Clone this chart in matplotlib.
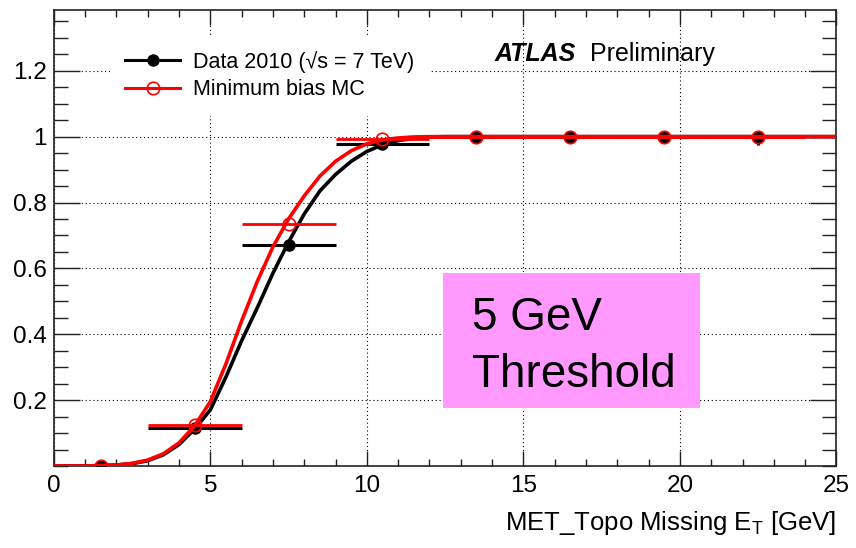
import numpy as np
import matplotlib.pyplot as plt
from matplotlib.lines import Line2D
from matplotlib.patches import Rectangle

plt.rcParams['font.family'] = ['Liberation Sans', 'DejaVu Sans']
plt.rcParams['mathtext.fontset'] = 'custom'
plt.rcParams['mathtext.rm'] = 'Liberation Sans'
plt.rcParams['mathtext.it'] = 'Liberation Sans:italic'

# binned efficiencies
bin_centers = [1.5, 4.5, 7.5, 10.5, 13.5, 16.5, 19.5, 22.5]
bin_halfwidth = [1.5] * 8
data_eff = [0.0, 0.115, 0.672, 0.978, 1.0, 1.0, 1.0, 0.999]
data_err_lo = [0.0, 0.0, 0.0, 0.0, 0.0, 0.0, 0.0, 0.025]
data_err_hi = [0.0, 0.0, 0.0, 0.0, 0.0, 0.0, 0.0, 0.0]
mc_eff = [0.0, 0.125, 0.734, 0.992, 1.0, 1.0, 1.0, 1.0]

# fitted turn-on curves
fit_x = [0, 1, 2, 2.5, 3, 3.5, 4, 4.5, 5, 5.5, 6, 6.5, 7, 7.5, 8, 8.5,
         9, 9.5, 10, 10.5, 11, 11.5, 12, 12.5, 25]
data_fit = [0, 0, 0.003, 0.007, 0.016, 0.034, 0.065, 0.112, 0.17, 0.27,
            0.38, 0.48, 0.585, 0.68, 0.765, 0.835, 0.885, 0.925, 0.955,
            0.975, 0.988, 0.995, 0.999, 1.0, 1.0]
mc_fit = [0, 0, 0.003, 0.008, 0.018, 0.037, 0.07, 0.122, 0.195, 0.31,
          0.44, 0.56, 0.665, 0.75, 0.82, 0.88, 0.925, 0.957, 0.978,
          0.99, 0.996, 0.999, 1.0, 1.0, 1.0]

fig = plt.figure(figsize=(8.56, 5.48), dpi=100)
ax = fig.add_axes([53.7/856, 1-466/548, (836.5-53.7)/856, (466-9.5)/548])

ax.errorbar(bin_centers, data_eff, xerr=bin_halfwidth,
            yerr=[data_err_lo, data_err_hi], fmt='o', color='black',
            ms=8, lw=2.2, capsize=0, zorder=3)
ax.plot(fit_x, data_fit, color='black', lw=2.6, zorder=4)
ax.errorbar(bin_centers, mc_eff, xerr=bin_halfwidth, fmt='o', color='red',
            mfc='none', mec='red', mew=1.2, ms=9, lw=2.0, capsize=0, zorder=5)
ax.plot(fit_x, mc_fit, color='red', lw=2.6, zorder=6)

ax.set_xlim(0, 25)
ax.set_ylim(0, 1.386)
ax.set_xticks([0, 5, 10, 15, 20, 25])
ax.set_xticks(np.arange(0, 26, 1), minor=True)
ax.set_yticks([0.2, 0.4, 0.6, 0.8, 1.0, 1.2])
ax.set_yticklabels(['0.2', '0.4', '0.6', '0.8', '1', '1.2'])
ax.set_yticks(np.arange(0, 1.39, 0.05), minor=True)
ax.grid(True, which='major', color='black', lw=0.8, linestyle=(0, (1, 2.5)))

ax.tick_params(axis='both', which='both', direction='in', top=True,
               right=True, width=1.0, colors='#222222', labelcolor='black',
               labelsize=17.5)
ax.tick_params(axis='x', which='major', length=10.5, pad=6.5)
ax.tick_params(axis='x', which='minor', length=5)
ax.tick_params(axis='y', which='major', length=19, pad=5)
ax.tick_params(axis='y', which='minor', length=10)
for s in ax.spines.values():
    s.set_linewidth(1.2)
    s.set_color('#222222')

handles = [Line2D([], [], color='black', lw=2.2, marker='o', ms=8),
           Line2D([], [], color='red', lw=2.2, marker='o', ms=9, mfc='none',
                  mec='red', mew=1.2)]
leg = ax.legend(handles, ['Data 2010 (\u221as = 7 TeV)', 'Minimum bias MC'],
                loc='upper left', bbox_to_anchor=(110/856, 1-36/548),
                bbox_transform=fig.transFigure, fontsize=15.5, frameon=True,
                fancybox=False, edgecolor='none', framealpha=1,
                handlelength=2.56, handletextpad=0.6, borderpad=0.7,
                borderaxespad=0, labelspacing=0.3)
leg.set_zorder(7)

fig.text(495/856, 1-60.7/548, 'ATLAS', fontsize=18, fontweight='bold',
         fontstyle='italic', ha='left', va='baseline')
fig.text(590/856, 1-60.7/548, 'Preliminary', fontsize=18, ha='left',
         va='baseline')

ax.add_patch(Rectangle((12.43, 0.175), 8.22, 0.412, facecolor='#ff99ff',
                       edgecolor='none', zorder=8))
ax.text(13.35, 0.413, '5 GeV', fontsize=33, ha='left', va='baseline', zorder=9)
ax.text(13.35, 0.241, 'Threshold', fontsize=33, ha='left', va='baseline',
        zorder=9)

fig.text(836/856, 1-530/548, 'MET_Topo Missing E$_{\\mathrm{T}}$ [GeV]',
         fontsize=18.5, ha='right', va='baseline')

fig.savefig('out.png', dpi=100)
